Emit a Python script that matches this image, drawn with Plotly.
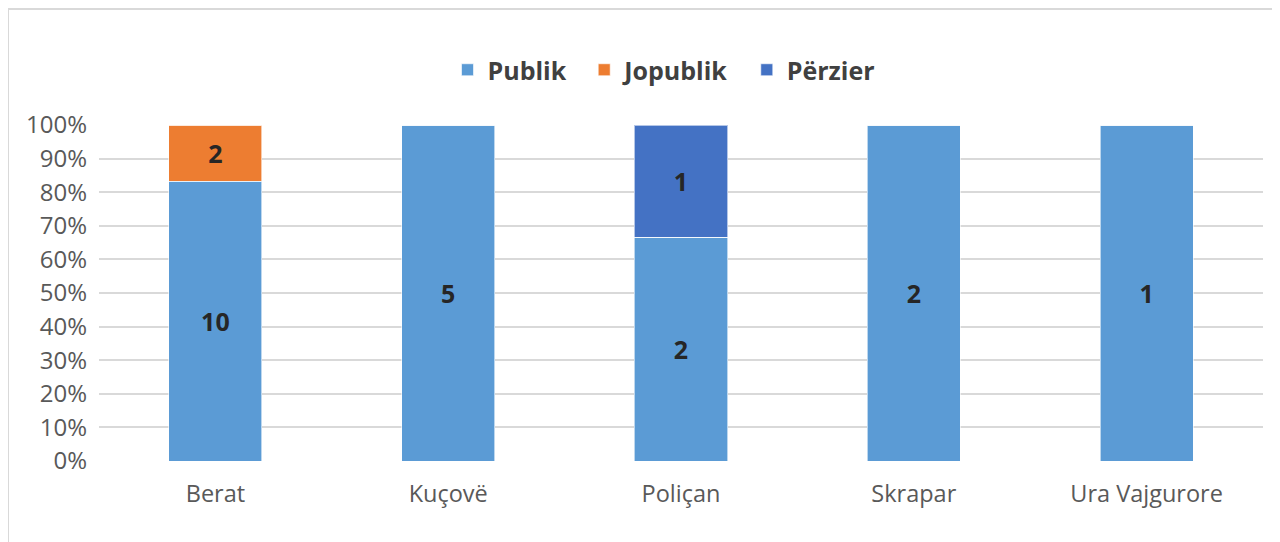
import plotly.graph_objects as go

categories = ["Berat", "Kuçovë", "Poliçan", "Skrapar", "Ura Vajgurore"]
publik = [10, 5, 2, 2, 1]
jopublik = [2, 0, 0, 0, 0]
perzier = [0, 0, 1, 0, 0]
series_names = ["Publik", "Jopublik", "Përzier"]
colors = ["#5B9BD5", "#ED7D31", "#4472C4"]
tick_vals = [0, 10, 20, 30, 40, 50, 60, 70, 80, 90, 100]
tick_text = [f"{v}%" for v in tick_vals]

FONT = "Open Sans"
fig = go.Figure()
for i, (name, vals, col) in enumerate(zip(series_names, [publik, jopublik, perzier], colors)):
    pad = "\u00a0\u00a0" if i < len(series_names) - 1 else ""
    fig.add_trace(go.Bar(
        x=categories, y=vals, name=name + pad,
        marker=dict(color=col, line=dict(color="rgba(255,255,255,0.6)", width=1)),
        text=[str(v) if v else "" for v in vals],
        textposition="inside", insidetextanchor="middle",
        textfont=dict(family=FONT, size=25, color="#262626", weight="bold"),
        width=0.4,
    ))

# page body has an 8px offset
OFF = 8
W, H = 1280, 542
L, R, T, B = 99 - OFF, W - (1263 - OFF), 125 - OFF, (H - 461) + OFF
pw, ph = W - L - R, H - T - B

fig.update_layout(
    barmode="stack", barnorm="percent",
    width=W, height=H,
    margin=dict(l=L, r=R, t=T, b=B),
    plot_bgcolor="white", paper_bgcolor="white",
    font=dict(family=FONT, size=24, color="#595959"),
    showlegend=True,
    legend=dict(orientation="h", x=(664 - 99) / (1263 - 99), xanchor="center",
                y=1.0 + (125 - 70) / ph, yanchor="middle",
                font=dict(family=FONT, size=25, color="#404040", weight="bold"),
                itemwidth=30, traceorder="normal"),
    uniformtext=dict(mode="show", minsize=10),
    xaxis=dict(showgrid=False, showline=False, ticks="", tickfont=dict(size=23.5, color="#595959"),
               range=[-0.5, 4.5], ticklabelstandoff=16),
    yaxis=dict(range=[0, 100], tickvals=tick_vals, ticktext=tick_text,
               showgrid=True, gridcolor="#D9D9D9", gridwidth=1.5, zeroline=False,
               showline=False, ticks="", tickfont=dict(size=24, color="#595959"),
               ticklabelstandoff=11),
    shapes=[dict(type="rect", xref="paper", yref="paper",
                 x0=(8 - OFF - L) / pw, x1=(W + 40 - L) / pw,
                 y0=-1.0, y1=1 + (T - (9 - OFF)) / ph,
                 line=dict(color="#D9D9D9", width=2), fillcolor="rgba(0,0,0,0)", layer="below")],
)
fig.write_html("out.html")
